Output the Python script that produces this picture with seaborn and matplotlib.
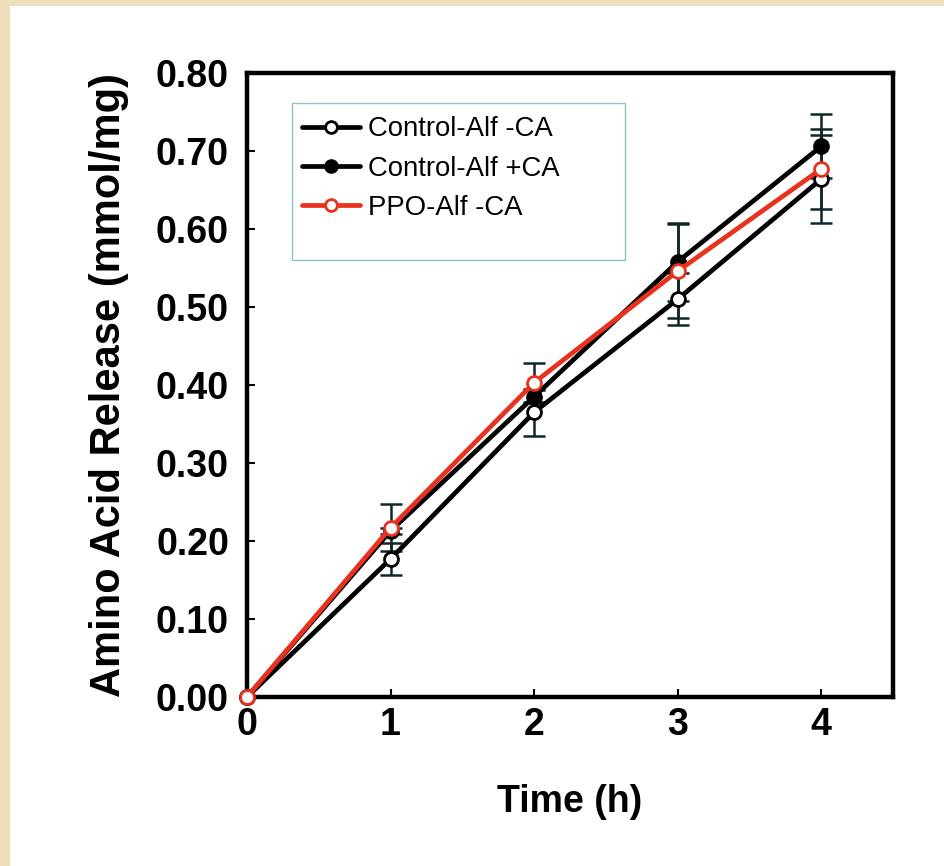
import numpy as np
import matplotlib
matplotlib.use("Agg")
import matplotlib.pyplot as plt
from matplotlib.patches import Rectangle
import seaborn as sns

# values
time_h = [0, 1, 2, 3, 4]
ctrl_minus_ca = [0.0, 0.177, 0.365, 0.510, 0.664]
ctrl_minus_err = [0.0, 0.020, 0.030, 0.033, 0.056]
ctrl_plus_ca = [0.0, 0.213, 0.385, 0.558, 0.706]
ctrl_plus_err = [0.0, 0.004, 0.008, 0.050, 0.041]
ppo_minus_ca = [0.0, 0.217, 0.403, 0.546, 0.677]
ppo_minus_err = [0.0, 0.030, 0.025, 0.060, 0.051]
series_labels = ["Control-Alf -CA", "Control-Alf +CA", "PPO-Alf -CA"]
y_ticks = [0.0, 0.1, 0.2, 0.3, 0.4, 0.5, 0.6, 0.7, 0.8]

RED = "#e8321e"
ERR = "#0f2626"

sns.set_style("ticks")
plt.rcParams["font.family"] = ["Liberation Sans", "DejaVu Sans"]
plt.rcParams["text.color"] = "black"
plt.rcParams["axes.labelcolor"] = "black"
plt.rcParams["xtick.color"] = "black"
plt.rcParams["ytick.color"] = "black"

fig = plt.figure(figsize=(9.44, 8.66), dpi=100)
fig.patch.set_facecolor("#eedfba")
fig.patches.append(Rectangle((10 / 944, 0), 1, 1 - 6 / 866, transform=fig.transFigure,
                             facecolor="white", edgecolor="none", zorder=-10))
ax = fig.add_axes([247 / 944, 1 - 697 / 866, 646 / 944, 624 / 866])
ax.set_facecolor("white")
ax.set_zorder(1)

series = [
    (ctrl_minus_ca, ctrl_minus_err, "black", "white", series_labels[0]),
    (ctrl_plus_ca, ctrl_plus_err, "black", "black", series_labels[1]),
    (ppo_minus_ca, ppo_minus_err, RED, "white", series_labels[2]),
]

# error bars sit underneath the lines
for vals, errs, col, face, lab in series:
    ax.errorbar(time_h, vals, yerr=errs, fmt="none", ecolor=ERR,
                elinewidth=1.8, capsize=8, capthick=1.8, zorder=1)

for i, (vals, errs, col, face, lab) in enumerate(series):
    sns.lineplot(x=time_h, y=vals, ax=ax, color=col, linewidth=3.4, marker="o",
                 markersize=10, markerfacecolor=face, markeredgecolor=col,
                 markeredgewidth=2, label=lab, zorder=2 + i, clip_on=False)

ax.set_xlim(0, 4.5)
ax.set_ylim(0, 0.8)
ax.set_xticks(time_h)
ax.set_yticks(y_ticks)
ax.set_yticklabels([f"{v:.2f}" for v in y_ticks])
ax.tick_params(direction="in", length=6, width=1.5, labelsize=27)
ax.tick_params(axis="y", pad=13)
ax.tick_params(axis="x", pad=7)
for lbl in ax.get_xticklabels() + ax.get_yticklabels():
    lbl.set_fontweight("bold")
for sp in ax.spines.values():
    sp.set_linewidth(3.2)
    sp.set_color("black")

ax.set_xlabel("Time (h)", fontsize=27, fontweight="bold", labelpad=30)
ax.set_ylabel("Amino Acid Release (mmol/mg)", fontsize=30, fontweight="bold", labelpad=19)

# legend with its own oversized box
ax.add_patch(Rectangle((0.070, 0.700), 0.515, 0.252, transform=ax.transAxes,
                       facecolor="white", edgecolor="#8cc4c4", linewidth=1.0, zorder=4))
leg = ax.legend(loc="upper left", bbox_to_anchor=(0.068, 0.948), frameon=False,
                fontsize=19.8, handlelength=2.1, handletextpad=0.3, labelspacing=0.48,
                borderaxespad=0, markerscale=0.85)
leg.set_zorder(5)

fig.savefig("out.png", dpi=100, facecolor=fig.get_facecolor())
